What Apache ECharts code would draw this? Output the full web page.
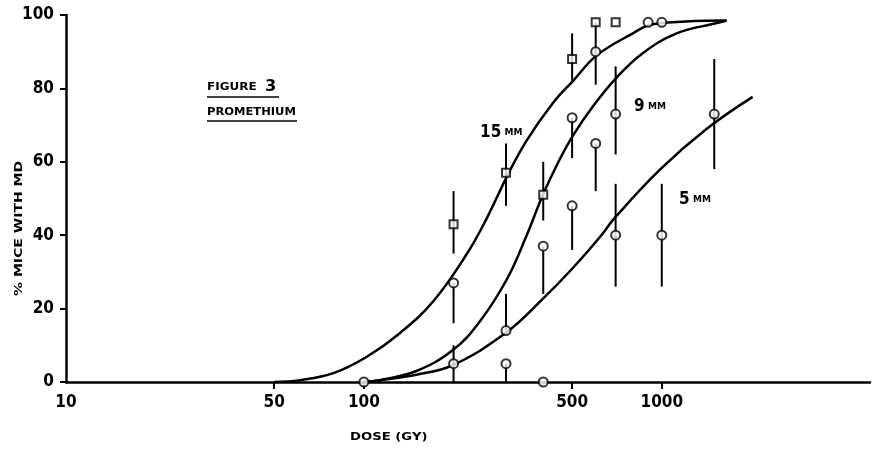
<!DOCTYPE html>
<html>
<head>
<meta charset="utf-8">
<script src="https://cdn.jsdelivr.net/npm/echarts@6/dist/echarts.min.js"></script>
<style>
  html, body { margin: 0; padding: 0; background: #fff; }
  #chart { width: 874px; height: 457px; }
</style>
</head>
<body>
<div id="chart"></div>
<script>
// Axis ticks and labels
const xTickValues = [50, 100, 500, 1000];
const xLabelValues = [10, 50, 100, 500, 1000];
const yTickLabels = [0, 20, 40, 60, 80, 100];

// Fitted dose-response curves: [dose (Gy), % mice with MD]
const curve15 = [[50, 0], [61, 0.5], [79, 2.4], [102, 6.8], [132, 13.3], [171, 22], [222, 35], [260, 45], [300, 55.5], [350, 65.5], [431, 76], [503, 82], [605, 89], [800, 95], [933, 97.5], [1650, 98.5]];
const curve9 = [[100, 0], [113, 0.5], [150, 3], [199, 8.7], [245, 16.5], [302, 28], [350, 39.5], [399, 51], [450, 60], [502, 67], [586, 75], [706, 83], [863, 89.6], [1122, 95], [1530, 97.8], [1650, 98.5]];
const curve5 = [[100, 0], [113, 0.5], [150, 2], [199, 4.6], [302, 13.6], [397, 22.5], [502, 31], [620, 39.5], [695, 44.7], [984, 57.8], [1416, 69], [2018, 77.7]];

// Observed points: [dose, %]
const obs15 = [[200, 43], [300, 57], [400, 51], [500, 88], [600, 98], [700, 98]];
const obs9 = [[200, 5], [300, 5], [400, 37], [500, 72], [600, 90], [700, 73], [900, 98], [1000, 98]];
const obs5 = [[100, 0], [200, 27], [300, 14], [400, 0], [500, 48], [600, 65], [700, 40], [1000, 40], [1500, 73]];

// Error bars: [dose, low, high]
const err15 = [[200, 35, 52], [300, 48, 65], [400, 44, 60], [500, 82, 95]];
const err9 = [[200, 0, 10], [300, 0, 5], [400, 24, 37], [500, 61, 72], [600, 81, 98], [700, 62, 86]];
const err5 = [[200, 16, 27], [300, 14, 24], [500, 36, 48], [600, 52, 65], [700, 26, 54], [1000, 26, 54], [1500, 58, 88]];

const INK = '#000';
const NUM_FONT = '"Liberation Sans Narrow", "DejaVu Sans Condensed", sans-serif';
const CAP_FONT = '"DejaVu Sans", "Liberation Sans", sans-serif';

function curveSeries(name, data) {
  return {
    name, type: 'line', data, smooth: 0.4,
    showSymbol: false, silent: true, z: 2,
    lineStyle: { color: INK, width: 2.5 }
  };
}

function pointSeries(name, data, symbol, size) {
  return {
    name, type: 'scatter', data, symbol, symbolSize: size, z: 4, silent: true,
    itemStyle: { color: '#fff', borderColor: INK, borderWidth: 2 }
  };
}

function errorSeries(name, data) {
  return {
    name, type: 'custom', data, z: 3, silent: true,
    encode: { x: 0, y: [1, 2] },
    renderItem(params, api) {
      const d = api.value(0);
      const lo = api.coord([d, api.value(1)]);
      const hi = api.coord([d, api.value(2)]);
      return {
        type: 'line',
        shape: { x1: lo[0], y1: lo[1], x2: hi[0], y2: hi[1] },
        style: { stroke: INK, lineWidth: 2 }
      };
    }
  };
}

const curveLabelRich = {
  n: { fontFamily: NUM_FONT, fontWeight: 'bold', fontSize: 17, fill: INK },
  m: { fontFamily: CAP_FONT, fontWeight: 'bold', fontSize: 9, fill: INK }
};

const chart = echarts.init(document.getElementById('chart'), null, { renderer: 'canvas' });

chart.setOption({
  backgroundColor: '#fff',
  animation: false,
  grid: { left: 66, right: 4, top: 15, bottom: 75, containLabel: false },
  xAxis: {
    type: 'log', logBase: 10, min: 10, max: 5000,
    axisLine: { lineStyle: { color: INK, width: 2.5 } },
    axisTick: { show: true, customValues: xTickValues, length: 7, lineStyle: { color: INK, width: 2 } },
    axisLabel: {
      customValues: xLabelValues, margin: 12,
      formatter: v => String(Math.round(v)),
      color: INK, fontFamily: NUM_FONT, fontWeight: 'bold', fontSize: 17
    },
    splitLine: { show: false },
    minorTick: { show: false }
  },
  yAxis: {
    type: 'value', min: 0, max: 100, interval: 20,
    axisLine: { show: true, lineStyle: { color: INK, width: 2.5 } },
    axisTick: { show: true, length: 6, lineStyle: { color: INK, width: 2 } },
    axisLabel: {
      margin: 12, color: INK, fontFamily: NUM_FONT, fontWeight: 'bold', fontSize: 17,
      formatter: v => (yTickLabels.indexOf(v) >= 0 ? String(v) : '')
    },
    splitLine: { show: false }
  },
  series: [
    curveSeries('15 MM', curve15),
    curveSeries('9 MM', curve9),
    curveSeries('5 MM', curve5),
    errorSeries('15 MM range', err15),
    errorSeries('9 MM range', err9),
    errorSeries('5 MM range', err5),
    pointSeries('15 MM data', obs15, 'rect', 8),
    pointSeries('9 MM data', obs9, 'circle', 9),
    pointSeries('5 MM data', obs5, 'circle', 9)
  ],
  graphic: [
    { type: 'text', left: 207, top: 80, scaleX: 1.2,
      style: { text: 'FIGURE  {b|3}', fill: INK, font: 'bold 10px ' + CAP_FONT,
        rich: { b: { fontFamily: NUM_FONT, fontWeight: 'bold', fontSize: 15, fill: INK } } } },
    { type: 'line', shape: { x1: 207, y1: 97, x2: 279, y2: 97 }, style: { stroke: INK, lineWidth: 1.5 } },
    { type: 'text', left: 207, top: 107, scaleX: 1.15,
      style: { text: 'PROMETHIUM', fill: INK, font: 'bold 10px ' + CAP_FONT } },
    { type: 'line', shape: { x1: 207, y1: 121, x2: 297, y2: 121 }, style: { stroke: INK, lineWidth: 1.5 } },
    { type: 'text', left: 480, top: 124, style: { text: '{n|15} {m|MM}', rich: curveLabelRich } },
    { type: 'text', left: 634, top: 98, style: { text: '{n|9} {m|MM}', rich: curveLabelRich } },
    { type: 'text', left: 679, top: 191, style: { text: '{n|5} {m|MM}', rich: curveLabelRich } },
    { type: 'text', left: 350, top: 432, scaleX: 1.2,
      style: { text: 'DOSE (GY)', fill: INK, font: 'bold 11px ' + CAP_FONT } },
    { type: 'text', x: 14, y: 296, rotation: Math.PI / 2, scaleX: 1.4,
      style: { text: '% MICE WITH MD', fill: INK, font: 'bold 10px ' + CAP_FONT } }
  ]
});
</script>
</body>
</html>
